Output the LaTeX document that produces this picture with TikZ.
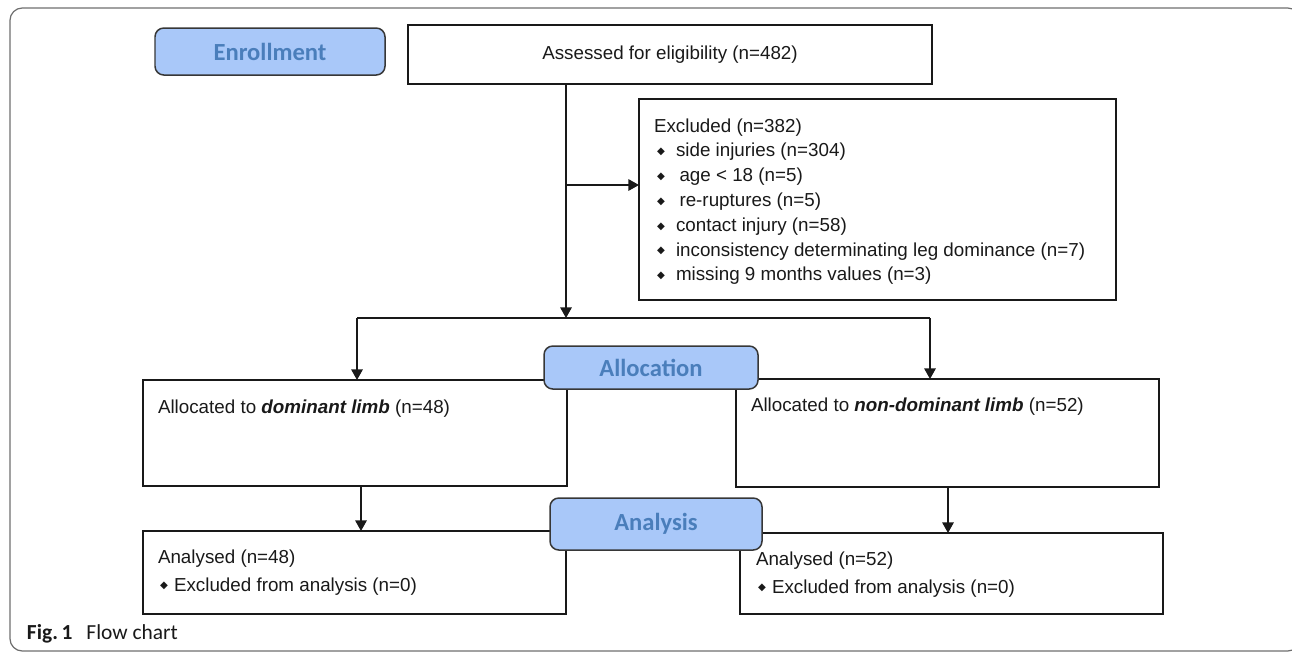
\documentclass[tikz,border=0pt]{standalone}
\usepackage{fontspec}
\setmainfont{Liberation Sans}
\newfontfamily\labelfont{Carlito}
\newfontfamily\bulletfont{DejaVu Sans}
\usetikzlibrary{positioning}
\usetikzlibrary{calc,arrows.meta}
\newcommand{\Px}{0.02cm}
\newcommand{\BodySize}{\fontsize{10.7pt}{14pt}\selectfont}
\newcommand{\LabelSize}{\fontsize{14pt}{16pt}\selectfont}
\newcommand{\CapSize}{\fontsize{12.2pt}{14pt}\selectfont}
\newcommand{\Bul}{\raisebox{1.2pt}{\bulletfont\fontsize{5.8pt}{5.8pt}\selectfont ◆}}
\newcommand{\LineGap}{24.8}
\newcommand{\LineW}{0.85pt}
\definecolor{Frame}{RGB}{110, 110, 110}
\definecolor{LabelFill}{RGB}{169, 200, 249}
\definecolor{LabelText}{RGB}{74, 126, 187}
\definecolor{LabelLine}{RGB}{55, 55, 55}
\definecolor{Ink}{RGB}{25, 25, 25}

\begin{document}
\begin{tikzpicture}[x=\Px,y=-\Px]
  \tikzstyle{every node}=[inner sep=0pt,outer sep=0pt,text=Ink]
  \tikzstyle{box}=[draw=Ink,line width=\LineW,rectangle,font=\BodySize]
  \tikzstyle{phase}=[draw=LabelLine,fill=LabelFill,line width=\LineW,rounded corners=5pt,text=LabelText,font=\labelfont\bfseries\LabelSize]
  \tikzstyle{txt}=[anchor=base west,font=\BodySize]
  \tikzstyle{link}=[draw=Ink,line width=\LineW]
  \tikzstyle{arrow}=[link,-{Triangle[length=6pt,width=6.5pt]}]
  \useasboundingbox (0,0) rectangle (1292,653);

  % Frame
  \draw[Frame,line width=0.7pt,rounded corners=7pt] (10,8) rectangle (1300,651);

  % Boxes
  \node[box,minimum width={524*\Px},minimum height={59*\Px}] (assess) at (670,54.5) {\raisebox{2pt}{Assessed for eligibility (n=482)}};
  \node[box,minimum width={477*\Px},minimum height={201*\Px}] (excl) at (877.5,199.5) {};
  \node[box,minimum width={424*\Px},minimum height={106*\Px}] (allocL) at (355,433) {};
  \node[box,minimum width={423*\Px},minimum height={108*\Px}] (allocR) at (947.5,433) {};
  \node[box,minimum width={423*\Px},minimum height={83*\Px}] (anaL) at (354.5,572.5) {};
  \node[box,minimum width={423*\Px},minimum height={81*\Px}] (anaR) at (951.5,573.5) {};

  % Excluded list
  \node[txt] (exhead) at (654,132) {Excluded (n=382)};
  \foreach \reason [count=\i] in {side injuries (n=304), \hspace{2pt}age < 18 (n=5), \hspace{2pt}re-ruptures (n=5), contact injury (n=58), inconsistency determinating leg dominance (n=7), missing 9 months values (n=3)} {
    \node[txt] (bul\i) at (657,{132+\i*\LineGap}) {\Bul};
    \node[txt] (ex\i) at (676,{132+\i*\LineGap}) {\reason};
  }

  % Allocated / analysed texts
  \node[txt] (allocLtxt) at (158,413) {Allocated to \textbf{\textit{dominant limb}} (n=48)};
  \node[txt] (allocRtxt) at (751,411) {Allocated to \textbf{\textit{non-dominant limb}} (n=52)};
  \node[txt] (anaLtxt) at (158,563) {Analysed (n=48)};
  \node[txt] (anaLbul) at (160,591) {\Bul};
  \node[txt] (anaLex) at (174,591) {Excluded from analysis (n=0)};
  \node[txt] (anaRtxt) at (756,565) {Analysed (n=52)};
  \node[txt] (anaRbul) at (758,593) {\Bul};
  \node[txt] (anaRex) at (772,593) {Excluded from analysis (n=0)};

  % Connectors
  \coordinate (split) at (566,318);
  \coordinate (branch) at (566,185);
  \coordinate (lsplit) at (357,318);
  \coordinate (rsplit) at (930,318);
  \coordinate (ldrop) at (361,0);
  \coordinate (rdrop) at (948,0);
  \draw[arrow] (assess.south -| split) -- (split);
  \draw[arrow] (branch) -- (branch -| excl.west);
  \draw[link] (lsplit) -- (rsplit);
  \draw[arrow] (lsplit) -- (lsplit |- allocL.north);
  \draw[arrow] (rsplit) -- (rsplit |- allocR.north);
  \draw[arrow] (allocL.south -| ldrop) -- (anaL.north -| ldrop);
  \draw[arrow] (allocR.south -| rdrop) -- (anaR.north -| rdrop);

  % Phase labels
  \node[phase,minimum width={230*\Px},minimum height={47*\Px}] (enrol) at (270,51.5) {Enrollment};
  \node[phase,minimum width={214*\Px},minimum height={43*\Px}] (alloc) at (651,367.5) {\raisebox{-1.5pt}{Allocation}};
  \node[phase,minimum width={212*\Px},minimum height={52*\Px}] (analysis) at (656,524) {Analysis};

  % Caption
  \node[anchor=base west,font=\labelfont\CapSize,text=Ink] (caption) at (27,639) {\textbf{Fig.\,1}\hspace{8pt}Flow chart};
\end{tikzpicture}
\end{document}
